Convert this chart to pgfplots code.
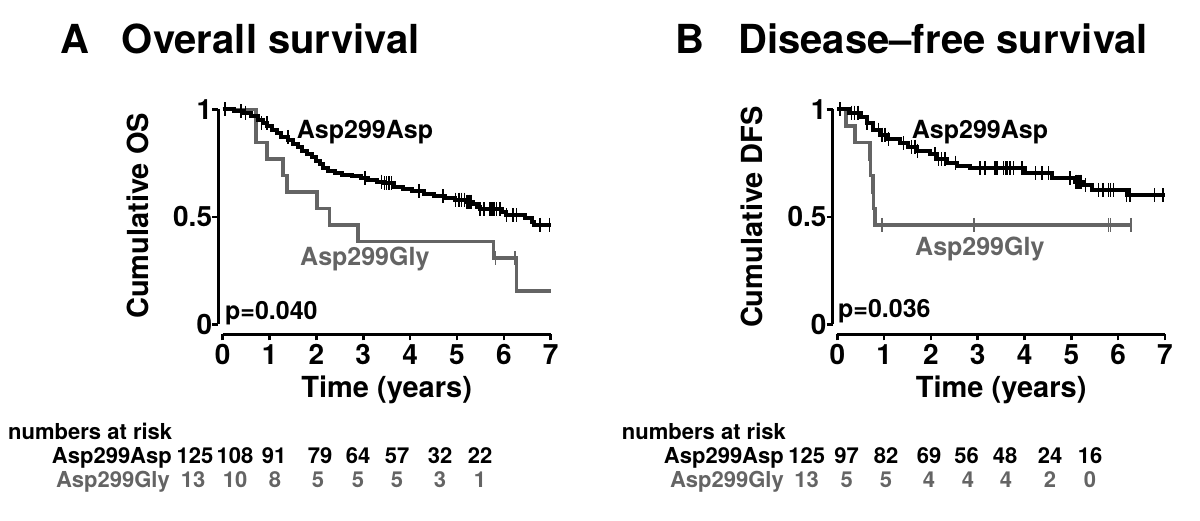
\documentclass[border=0pt]{standalone}
\usepackage{fontspec}
\setmainfont{TeX Gyre Heros}
\usepackage{pgfplots}
\pgfplotsset{compat=1.18}
\definecolor{kmgray}{RGB}{100,100,100}
\newcommand{\fs}[1]{\fontsize{#1}{#1}\selectfont\bfseries}

\pgfplotsset{km/.style={
    scale only axis, width=332.4pt, height=225pt,
    xmin=-0.094, xmax=7, ymin=-0.0465, ymax=1,
    axis x line*=bottom, axis y line*=left,
    axis line style={draw=none},
    xtick={0,...,7}, ytick={0,0.5,1}, yticklabels={0,0.5,1},
    tick align=outside, major tick length=6pt,
    tick style={black, line width=2.5pt},
    tick label style={font=\fs{28}},
    xticklabel style={yshift=-4pt},
    /pgf/number format/assume math mode=true,
    clip=false, anchor=south west},
  curve/.style={const plot, line width=4pt, mark=none},
  cens/.style={only marks, mark=|, mark size=7pt, mark options={line width=1.5pt}}
}

\begin{document}
\begin{tikzpicture}[every node/.style={inner sep=0pt}]
\path[use as bounding box] (0,0) rectangle (1200pt,520pt);

% ---- A: overall survival
\begin{axis}[km, at={(218.3pt,185.7pt)}]
  \addplot[curve, kmgray, line width=3.5pt] coordinates {
    (0,1) (0.71,0.846) (0.94,0.769) (1.29,0.692) (1.37,0.615) (2.01,0.538)
    (2.28,0.462) (2.89,0.385) (5.78,0.308) (6.27,0.154) (7.0,0.154)};
  \addplot[cens, kmgray] coordinates {(5.82,0.308) (6.24,0.308)};
  \addplot[curve, black] coordinates {
    (0,1) (0.25,0.992) (0.45,0.984) (0.6,0.968) (0.75,0.952) (0.85,0.936)
    (0.95,0.92) (1.05,0.904) (1.15,0.888) (1.25,0.872) (1.4,0.856) (1.5,0.84)
    (1.6,0.824) (1.7,0.808) (1.8,0.792) (1.9,0.776) (2.0,0.76) (2.08,0.744)
    (2.15,0.728) (2.25,0.712) (2.4,0.704) (2.55,0.696) (2.75,0.688) (2.95,0.68)
    (3.1,0.672) (3.3,0.664) (3.45,0.656) (3.65,0.64) (3.85,0.628) (4.05,0.62)
    (4.3,0.608) (4.5,0.596) (4.75,0.588) (4.95,0.58) (5.2,0.57) (5.35,0.558)
    (5.42,0.546) (5.5,0.534) (5.95,0.52) (6.05,0.508) (6.45,0.496) (6.6,0.478)
    (6.65,0.462) (7.0,0.462)};
  \addplot[cens, black] coordinates {
    (0.05,1) (0.39,0.992) (0.49,0.984) (0.83,0.936) (0.94,0.936) (1.39,0.872)
    (3.04,0.68) (3.39,0.664) (3.45,0.656) (3.5,0.656) (3.55,0.656) (3.6,0.656)
    (4.19,0.62) (4.7,0.596) (4.97,0.58) (5.04,0.58) (5.1,0.58) (5.16,0.58)
    (5.21,0.57) (5.26,0.57) (5.3,0.57) (5.49,0.534) (5.58,0.534) (5.7,0.534)
    (5.75,0.534) (5.79,0.534) (5.84,0.534) (5.92,0.534) (6.06,0.508) (6.2,0.508)
    (6.27,0.508) (6.77,0.462) (6.97,0.462)};
  \draw[line width=3.5pt] (axis cs:-0.094,0) -- (axis cs:-0.094,1);
  \draw[line width=3.5pt] (axis cs:0,-0.0465) -- (axis cs:7,-0.0465);
\end{axis}

% ---- B: disease-free survival
\begin{axis}[km, at={(832.7pt,185.7pt)}, width=332.3pt, xmin=-0.098]
  \addplot[curve, kmgray, line width=3.5pt] coordinates {
    (0,1) (0.19,0.923) (0.38,0.846) (0.70,0.769) (0.71,0.692) (0.76,0.615)
    (0.77,0.538) (0.81,0.462) (6.3,0.462)};
  \addplot[cens, kmgray] coordinates {
    (0.95,0.462) (2.92,0.462) (5.79,0.462) (5.84,0.462) (6.27,0.462)};
  \addplot[curve, black] coordinates {
    (0,1) (0.25,0.985) (0.5,0.962) (0.63,0.935) (0.77,0.905) (0.91,0.882)
    (1.09,0.862) (1.34,0.843) (1.5,0.826) (1.7,0.808) (1.98,0.79) (2.12,0.768)
    (2.34,0.752) (2.55,0.736) (2.84,0.725) (4.0,0.702) (4.58,0.68) (5.08,0.664)
    (5.26,0.648) (5.44,0.625) (6.18,0.6) (7.0,0.6)};
  \addplot[cens, black] coordinates {
    (0.06,1) (0.3,0.985) (0.37,0.985) (0.44,0.985) (0.63,0.935) (0.88,0.905)
    (0.95,0.882) (1.02,0.882) (1.09,0.862) (1.41,0.843) (1.59,0.826) (1.66,0.826)
    (1.71,0.808) (2.09,0.79) (2.16,0.768) (2.23,0.768) (2.3,0.768) (2.52,0.752)
    (3.05,0.725) (3.15,0.725) (3.37,0.725) (3.41,0.725) (3.55,0.725) (3.6,0.725)
    (3.64,0.725) (3.69,0.725) (3.76,0.725) (3.94,0.725) (4.23,0.702) (4.37,0.702)
    (4.51,0.702) (4.97,0.68) (5.1,0.664) (5.14,0.664) (5.18,0.664) (5.22,0.664)
    (5.3,0.648) (5.58,0.625) (5.68,0.625) (5.79,0.625) (5.84,0.625) (5.9,0.625)
    (6.18,0.6) (6.25,0.6) (6.78,0.6) (6.96,0.6)};
  \draw[line width=3.5pt] (axis cs:-0.098,0) -- (axis cs:-0.098,1);
  \draw[line width=3.5pt] (axis cs:0,-0.0465) -- (axis cs:7,-0.0465);
\end{axis}

% ---- titles
\node[anchor=base west, font=\fs{40}] at (60pt,466.7pt) {A};
\node[anchor=base west, font=\fs{40}] at (121.7pt,466.7pt) {Overall survival};
\node[anchor=base west, font=\fs{40}] at (675pt,466.7pt) {B};
\node[anchor=base west, font=\fs{40}] at (738.3pt,466.7pt) {Disease–free survival};

% ---- axis labels
\node[rotate=90, font=\fs{29}] at (138pt,304pt) {Cumulative OS};
\node[rotate=90, font=\fs{29}] at (752pt,303pt) {Cumulative DFS};
\node[anchor=base, font=\fs{29}] at (386.7pt,122pt) {Time (years)};
\node[anchor=base, font=\fs{29}] at (1001.2pt,122pt) {Time (years)};

% ---- curve labels and p values
\node[anchor=base west, font=\fs{25}] at (296.7pt,381.7pt) {Asp299Asp};
\node[anchor=base west, font=\fs{25}, text=kmgray] at (300pt,254pt) {Asp299Gly};
\node[anchor=base west, font=\fs{25}] at (225pt,200pt) {p=0.040};
\node[anchor=base west, font=\fs{25}] at (911.7pt,381.7pt) {Asp299Asp};
\node[anchor=base west, font=\fs{25}, text=kmgray] at (915pt,264.3pt) {Asp299Gly};
\node[anchor=base west, font=\fs{25}] at (838pt,202pt) {p=0.036};

% ---- numbers at risk A
\node[anchor=base west, font=\fs{22}] at (8pt,81pt) {numbers at risk};
\node[anchor=base east, font=\fs{22}] at (172pt,57pt) {Asp299Asp};
\node[anchor=base east, font=\fs{22}, text=kmgray] at (170pt,33pt) {Asp299Gly};
\foreach \x/\n in {195/125,235/108,274/91,320/79,358/64,397/57,440/32,480/22}
  \node[anchor=base, font=\fs{22}] at (\x pt,57pt) {\n};
\foreach \x/\n in {193/13,235/10,275/8,318/5,358/5,397/5,440/3,480/1}
  \node[anchor=base, font=\fs{22}, text=kmgray] at (\x pt,33pt) {\n};

% ---- numbers at risk B
\node[anchor=base west, font=\fs{22}] at (621.7pt,81pt) {numbers at risk};
\node[anchor=base east, font=\fs{22}] at (784pt,57pt) {Asp299Asp};
\node[anchor=base east, font=\fs{22}, text=kmgray] at (784pt,33pt) {Asp299Gly};
\foreach \x/\n in {806.7/125,846.7/97,886/82,929/69,966.7/56,1005/48,1050/24,1090/16}
  \node[anchor=base, font=\fs{22}] at (\x pt,57pt) {\n};
\foreach \x/\n in {806.7/13,846.7/5,886/5,929/4,968/4,1006/4,1050/2,1090/0}
  \node[anchor=base, font=\fs{22}, text=kmgray] at (\x pt,33pt) {\n};
\end{tikzpicture}
\end{document}
